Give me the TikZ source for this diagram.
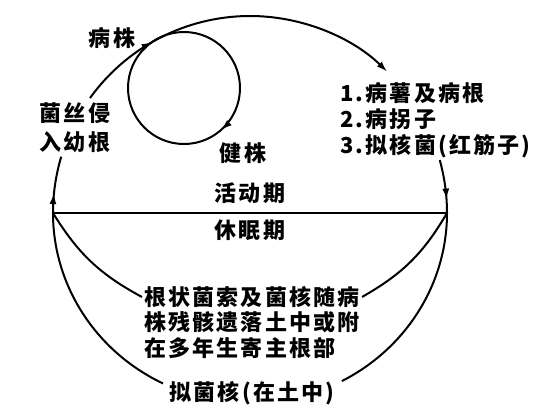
\documentclass[tikz,border=0pt]{standalone}
\usepackage{fontspec}
\newfontfamily\cjk[LetterSpace=10]{Noto Sans CJK SC}
\usetikzlibrary{arrows,arrows.meta,calc,positioning,decorations.markings}
\tikzstyle{txt} = [font=\cjk\bfseries\fontsize{22}{26}\selectfont, inner sep=2pt]
\tikzstyle{cyc} = [draw, line width=2pt]
\tikzstyle{tip} = [-{Latex[length=11pt,width=7pt]}]
\tikzset{midarrow/.style={postaction={decorate}, decoration={markings, mark=at position #1 with {\arrow{Latex[length=11pt,width=7pt]}}}}}

\begin{document}
\begin{tikzpicture}[x=1pt, y=1pt]
        \useasboundingbox (-250,-200) rectangle (306,213);
        \coordinate (c) at (0,0);
        \coordinate (w) at (-197,0);
        \coordinate (e) at (197,0);
        \coordinate (sc) at (-66,125);
        % labels
        \node[txt] (sick) at (-138,175) {病株};
        \node[txt, align=center] (invade) at (-175,85) {菌丝侵\\[3pt]入幼根};
        \node[txt] (healthy) at (-7,60) {健株};
        \node[txt] (active) at (0,20) {活动期};
        \node[txt, below=12pt of active] (dormant) {休眠期};
        \node[txt, align=left, anchor=west] (sources) at (88,93) {1.病薯及病根\\2.病拐子\\3.拟核菌(红筋子)};
        \node[txt, anchor=west] (rem1) at (-108,-84) {根状菌索及菌核随病};
        \node[txt, below=0pt of rem1.south west, anchor=north west] (rem2) {株残骸遗落土中或附};
        \node[txt, below=0pt of rem2.south west, anchor=north west] (rem3) {在多年生寄主根部};
        \node[txt] (sclerotia) at (2,-180) {拟菌核(在土中)};
        % cycle
        \draw[cyc, midarrow=0.35] (w) arc[start angle=180, end angle=163.4, radius=197pt];
        \draw[cyc, midarrow=0.25, tip] ([shift={(144.3:197pt)}]c) arc[start angle=144.3, end angle=45.8, radius=197pt];
        \draw[cyc, midarrow=0.75] ([shift={(15.6:197pt)}]c) arc[start angle=15.6, end angle=0, radius=197pt];
        \draw[cyc, midarrow=0.385] ([shift={(90:56pt)}]sc) arc[start angle=90, end angle=-270, radius=56pt];
        \draw[line width=1.5pt] (w) -- (e);
        \draw[cyc] (w) to[bend right=15] (rem1.west);
        \draw[cyc] (e) to[bend left=15] (rem1.east);
        \draw[cyc] (w) arc[start angle=180, end angle=243.8, x radius=197pt, y radius=190pt];
        \draw[cyc] (e) arc[start angle=0, end angle=-62.2, x radius=197pt, y radius=190pt];
    \end{tikzpicture}
\end{document}
